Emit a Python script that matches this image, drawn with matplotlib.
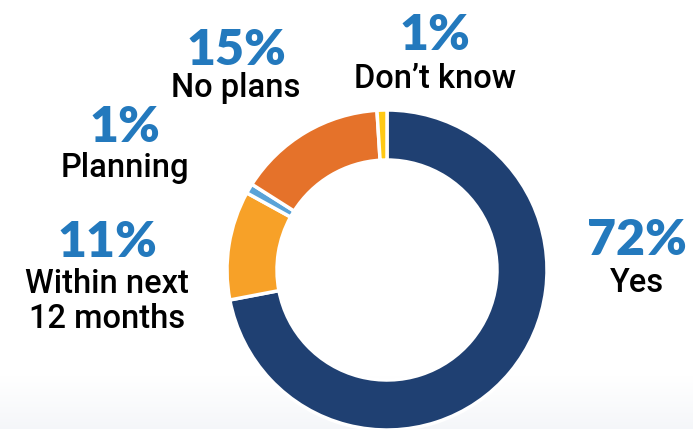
import numpy as np
import matplotlib.pyplot as plt

# data
labels = ['Yes', 'Within next\n12 months', 'Planning', 'No plans', "Don\u2019t know"]
values = [72, 11, 1, 15, 1]
pct_text = ['72%', '11%', '1%', '15%', '1%']
colors = ['#1F4072', '#F7A128', '#5AA3D8', '#E5722A', '#FFC914']

W, H = 693, 429
fig = plt.figure(figsize=(W / 100, H / 100), dpi=100)
ax = fig.add_axes([0, 0, 1, 1])

# faint grey fade at the bottom
grad = np.linspace(0, 1, 200).reshape(-1, 1)
grad = np.clip((grad - 0.88) / 0.12, 0, 1)
bg = np.ones((200, 1, 3))
bg = bg - grad[:, :, None] * (1 - np.array([0.96, 0.967, 0.978]))
ax.imshow(bg, extent=[0, W, 0, H], aspect='auto', zorder=0, origin='upper')

# donut
cx, cy = 387, H - 270
ax.pie(values, colors=colors, startangle=90, counterclock=False,
       center=(cx, cy), radius=160, frame=True,
       wedgeprops=dict(width=50, edgecolor='white', linewidth=2.5))
ax.set_xlim(0, W)
ax.set_ylim(0, H)
ax.set_aspect('equal')
ax.axis('off')

# label positions (x center, baseline of percent, baseline of first label line)
pos = [(637, 255, 292), (107, 257, 293), (125, 142, 177), (236, 65, 97), (435, 50, 88)]
fam = ['Lato', 'DejaVu Sans']
fam2 = ['Roboto', 'DejaVu Sans']
for (x, yp, yl), p, lab in zip(pos, pct_text, labels):
    ax.text(x, H - yp, p, ha='center', va='baseline', fontsize=36,
            color='#2379BD', fontweight='heavy', family=fam)
    for i, line in enumerate(lab.split('\n')):
        ax.text(x, H - yl - i * 35, line, ha='center', va='baseline', fontsize=23.5,
                color='black', fontweight='medium', family=fam2)

fig.savefig('out.png', dpi=100)
